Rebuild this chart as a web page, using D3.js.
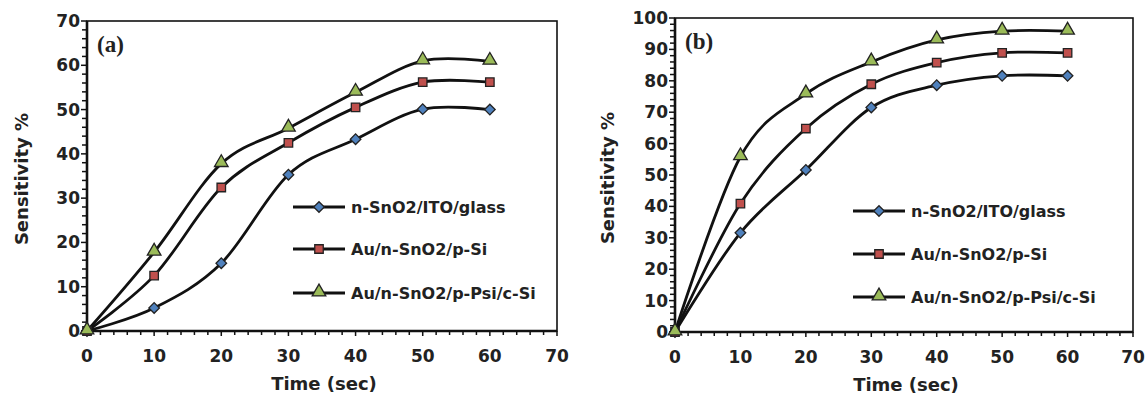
<!DOCTYPE html>
<html><head><meta charset="utf-8">
<script src="https://cdn.jsdelivr.net/npm/d3@7"></script>
<style>body{margin:0;background:#fff;} svg{display:block;}</style>
</head><body>
<svg id="c" width="1146" height="398"></svg>
<script>
const times = [0, 10, 20, 30, 40, 50, 60];
const seriesNames = ["n-SnO2/ITO/glass", "Au/n-SnO2/p-Si", "Au/n-SnO2/p-Psi/c-Si"];
const aGlass = [0, 5.2, 15.3, 35.3, 43.3, 50.1, 50.0];
const aSi    = [0, 12.5, 32.4, 42.5, 50.5, 56.2, 56.2];
const aPsi   = [0, 17.8, 37.8, 45.8, 53.9, 61.0, 60.9];
const bGlass = [0, 31.6, 51.6, 71.5, 78.6, 81.6, 81.6];
const bSi    = [0, 40.9, 64.8, 78.9, 85.8, 88.9, 88.9];
const bPsi   = [0, 55.8, 75.8, 86.0, 93.0, 95.8, 95.8];
const xTicks = [0, 10, 20, 30, 40, 50, 60, 70];
const aYTicks = [0, 10, 20, 30, 40, 50, 60, 70];
const bYTicks = [0, 10, 20, 30, 40, 50, 60, 70, 80, 90, 100];

const colors = ["#4f81bd", "#c0504d", "#9bbb59"];
const svg = d3.select("#c");
const FONT = "'DejaVu Sans', sans-serif";

function marker(sel, k) {
  if (k === 0) {
    sel.attr("d", d3.symbol().type(d3.symbolSquare).size(56)());
  } else if (k === 1) {
    sel.attr("d", d3.symbol().type(d3.symbolSquare).size(72)());
  } else {
    sel.attr("d", d3.symbol().type(d3.symbolTriangle).size(80)());
  }
  return sel;
}
function mtransform(k, px, py) {
  if (k === 0) return `translate(${px},${py}) rotate(45)`;
  if (k === 2) return `translate(${px},${py - 1})`;
  return `translate(${px},${py})`;
}

function panel(cfg) {
  const x = d3.scaleLinear().domain([0, 70]).range([cfg.x0, cfg.x1]);
  const y = d3.scaleLinear().domain([0, cfg.ymax]).range([cfg.y0, cfg.y1]);
  const g = svg.append("g");
  g.append("rect").attr("x", cfg.x0).attr("y", cfg.y1)
    .attr("width", cfg.x1 - cfg.x0).attr("height", cfg.y0 - cfg.y1)
    .attr("fill", "none").attr("stroke", "#111").attr("stroke-width", 1.6);
  const xMinor = d3.range(0, 71, 2);
  g.selectAll(".xm").data(xMinor).enter().append("line")
    .attr("x1", d => x(d)).attr("x2", d => x(d))
    .attr("y1", cfg.y0).attr("y2", d => cfg.y0 + (d % 10 === 0 ? 5 : 4))
    .attr("stroke", "#111").attr("stroke-width", 1.5);
  const yMinor = d3.range(0, cfg.ymax + 1, 2);
  g.selectAll(".ym").data(yMinor).enter().append("line")
    .attr("y1", d => y(d)).attr("y2", d => y(d))
    .attr("x1", d => cfg.x0 - (d % 10 === 0 ? 6 : 5)).attr("x2", cfg.x0)
    .attr("stroke", "#111").attr("stroke-width", 1.5);
  g.append("line").attr("x1", cfg.x0).attr("x2", cfg.x0).attr("y1", cfg.y1).attr("y2", cfg.y0 + 1)
    .attr("stroke", "#111").attr("stroke-width", 2.6);
  g.append("line").attr("x1", cfg.x0 - 1).attr("x2", cfg.x1).attr("y1", cfg.y0).attr("y2", cfg.y0)
    .attr("stroke", "#111").attr("stroke-width", 2.6);
  g.selectAll(".xl").data(xTicks).enter().append("text")
    .attr("x", d => x(d)).attr("y", cfg.y0 + 31)
    .attr("text-anchor", "middle").attr("font-family", FONT).attr("font-weight", "bold")
    .attr("font-size", 17).attr("fill", "#222").text(d => d);
  g.selectAll(".yl").data(cfg.yTicks).enter().append("text")
    .attr("x", cfg.x0 - 7).attr("y", d => y(d) + 6)
    .attr("text-anchor", "end").attr("font-family", FONT).attr("font-weight", "bold")
    .attr("font-size", 17).attr("fill", "#222").text(d => d);
  g.append("text").attr("x", (cfg.x0 + cfg.x1) / 2 + 2).attr("y", cfg.y0 + 59)
    .attr("text-anchor", "middle").attr("font-family", FONT).attr("font-weight", "bold")
    .attr("font-size", 18).attr("fill", "#222").text("Time (sec)");
  g.append("text").attr("transform", `translate(${cfg.ytx},${cfg.ytyc}) rotate(-90)`)
    .attr("text-anchor", "middle").attr("font-family", FONT).attr("font-weight", "bold")
    .attr("font-size", 18).attr("fill", "#222").text("Sensitivity %");
  g.append("text").attr("x", cfg.x0 + 10).attr("y", cfg.y1 + 31)
    .attr("font-family", "'Liberation Serif', 'Times New Roman', serif").attr("font-weight", "bold")
    .attr("font-size", 23).attr("fill", "#222").text(cfg.label);
  const line = d3.line().x((d, i) => x(times[i])).y(d => y(d)).curve(d3.curveCardinal.tension(0));
  cfg.series.forEach((s) => {
    g.append("path").attr("d", line(s)).attr("fill", "none")
      .attr("stroke", "#111").attr("stroke-width", 2.8);
  });
  cfg.series.forEach((s, k) => {
    g.selectAll(".m" + k).data(s).enter().append("path")
      .call(sel => marker(sel, k))
      .attr("transform", (d, i) => mtransform(k, x(times[i]), y(d)))
      .attr("fill", colors[k]).attr("stroke", "#222").attr("stroke-width", 1.3);
  });
  seriesNames.forEach((n, k) => {
    const yy = cfg.legY[k];
    g.append("line").attr("x1", cfg.legX).attr("x2", cfg.legX + 52).attr("y1", yy).attr("y2", yy)
      .attr("stroke", "#111").attr("stroke-width", 2.8);
    g.append("path").call(sel => marker(sel, k))
      .attr("transform", mtransform(k, cfg.legX + 26, yy))
      .attr("fill", colors[k]).attr("stroke", "#222").attr("stroke-width", 1.3);
    g.append("text").attr("x", cfg.legX + 58).attr("y", yy + 6)
      .attr("font-family", FONT).attr("font-weight", "bold")
      .attr("font-size", 16).attr("fill", "#222").text(n);
  });
}

panel({x0: 87, x1: 557, y0: 331, y1: 21, ymax: 70, yTicks: aYTicks, label: "(a)",
  ytx: 28, ytyc: 179, series: [aGlass, aSi, aPsi], legX: 293, legY: [207, 249, 293]});
panel({x0: 675, x1: 1133, y0: 332, y1: 18, ymax: 100, yTicks: bYTicks, label: "(b)",
  ytx: 614, ytyc: 178, series: [bGlass, bSi, bPsi], legX: 853, legY: [211, 254, 297]});
</script>
</body></html>
